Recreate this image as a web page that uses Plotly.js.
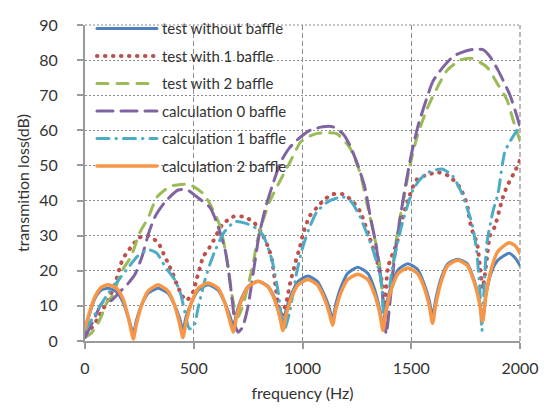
<!DOCTYPE html>
<html>
<head>
<meta charset="utf-8">
<script src="https://cdn.plot.ly/plotly-3.0.1.min.js"></script>
<style>
html,body{margin:0;padding:0;background:#fff;}
#chart{width:544px;height:409px;}
.js-line{stroke-linecap:round;}
</style>
</head>
<body>
<div id="chart"></div>
<script>
// ---- data (frequency in Hz, transmission loss in dB) ----
var seriesNames = ["test without baffle","test with 1 baffle","test with 2 baffle","calculation 0 baffle","calculation 1 baffle","calculation 2 baffle"];

var blueF = [0,20,45,75,108,145,175,200,212,222,237,262,292,336,380,410,435,450,465,490,520,566,612,642,667,682,697,722,752,796,840,870,895,910,925,950,980,1024,1068,1098,1123,1138,1153,1178,1208,1254,1300,1330,1355,1370,1385,1410,1440,1484,1528,1558,1583,1598,1613,1638,1668,1713,1758,1788,1813,1828,1843,1868,1898,1950,1980,2000];
var blueTL = [3,7.5,12,14.5,15,14,11,6.5,4,2,6,10.5,13.7,15,13.7,10.5,6.5,3,7,11,14.5,16,14.5,11,7,4,8,12.5,15.7,17,15.7,12.5,8,4,9,13.5,17,18.5,17,13.5,9.5,6,10.5,15.5,19.3,21,19.3,15,9,4,10,16,20.3,22,20.5,16.5,11.5,7,12,18,22,23.3,22,17.5,11.5,6,13,19.5,23,25,23.5,21.5];

var redF = [0,28,55,78,110,142,165,190,215,248,290,336,360,383,405,423,446,466,497,515,529,543,566,590,630,680,727,773,810,843,860,875,890,905,925,945,966,989,1003,1034,1066,1103,1140,1186,1227,1264,1300,1342,1365,1378,1393,1434,1460,1490,1526,1582,1627,1673,1724,1756,1770,1784,1802,1815,1828,1845,1862,1885,1908,1922,1940,1982,2000];
var redTL = [2.5,3.6,6,8.6,12,17,22,25,27,29.4,30,28,25,22,19,16,13,11.5,14,18,21,24,26,28.5,33,35.4,35.4,34,31,26.6,23,16,10,7.5,11,17,22,27,30.7,35.7,38,40.4,41.8,41.8,40,37,31,23,17,11,21,28,35,41,46,47.5,48,47,43.7,39,34,30.7,28,22,15,22,30,32.7,38,41,44,49,51.5];

var greenF = [0,25,51,75,101,124,170,211,253,290,331,391,440,480,543,575,621,653,676,690,705,730,750,772,790,814,851,900,943,989,1020,1060,1103,1159,1218,1264,1297,1324,1340,1356,1368,1380,1392,1405,1425,1448,1470,1494,1526,1572,1618,1664,1724,1779,1848,1899,1940,1968,2000];
var greenTL = [1,2,4,7,11,12.7,20,24,31,35,41,44,44.6,44.6,42,39,32.7,23,13,9,7,11,16,21.6,28,33.5,40,46,51,56.5,58,59,59.3,59,55,48,39,31.6,27,21,13,6,9,15,26,35,42,50,58,66,72,77,80,80.5,78,73,68.7,63,57];

var purpleF = [0,40,80,120,160,193,230,262,294,322,368,428,470,515,575,607,644,660,678,692,705,725,750,775,800,830,860,900,940,989,1034,1094,1140,1186,1218,1255,1287,1310,1333,1356,1370,1385,1402,1420,1444,1470,1500,1530,1560,1600,1646,1692,1724,1780,1830,1862,1900,1954,1986,2000];
var purpleTL = [1,6,11,11.5,14,16,19,24,31,35.4,39.6,43,43,41,38,33.5,26,20,11,4,2.5,4,10,20,30,38,44,51,55,58,60,61,61,59,55.7,50,43.7,36,29,20,12,2,11,22,33,43,53,61,67,74,78,81,82,83,83,81,77,70,64,61];

var cyanF = [0,50,100,150,200,240,290,330,370,410,437,460,480,500,520,550,575,600,640,690,740,790,820,860,888,915,940,975,998,1030,1066,1126,1186,1220,1260,1300,1324,1356,1365,1375,1390,1411,1448,1480,1508,1540,1577,1641,1690,1733,1779,1800,1815,1825,1835,1848,1876,1899,1931,1986,2000];
var cyanTL = [3,8,13,17,21,24,26,25,21,17.7,14,8,3.5,4,9.4,17,22,26,31,34,33.5,32,30,23,14,3,8,20,26,32,36.8,40,41,40,36,30,26,19,15,6,10,20,31,38,43,46,48,49,47,42,33.5,26,15,3,15,28,37,42,54,60,61];

var orangeF = [0,20,45,75,108,145,175,200,212,222,237,262,292,336,380,410,435,450,465,490,520,566,612,642,667,682,697,722,752,796,840,870,895,910,925,950,980,1024,1068,1098,1123,1138,1153,1178,1208,1254,1300,1330,1355,1370,1385,1410,1440,1484,1528,1558,1583,1598,1613,1638,1668,1713,1758,1788,1813,1828,1843,1868,1898,1950,1980,2000];
var orangeTL = [3.5,8,12.5,15.3,16,15,12,6.5,3,0.5,5,10.5,14.3,16,14.3,10.5,5,1,5.5,11,15,16.5,15,11,5.5,2.5,7,12,15.5,17,15.5,12,7,3,7.5,12.5,16,17.5,16,12.5,8,4.5,9,14,17.5,19,17.5,13.5,8,3,9,15,19.3,20.8,19.3,15.5,10,5,10.5,17,21.5,23,21.5,17,11,5.5,13,20.5,25.5,28,27,25];

var xTicks = [0,500,1000,1500,2000];
var yTicks = [0,10,20,30,40,50,60,70,80,90];

// ---- styles ----
function tr(i, x, y, color, width, dash) {
  return {x: x, y: y, name: seriesNames[i], legendgroup: 'g' + i, type: 'scatter', mode: 'lines',
    line: {color: color, width: width, dash: dash, shape: 'spline', smoothing: 0.6},
    hoverinfo: 'skip'};
}
var data = [
  tr(0, blueF, blueTL, '#4f81bd', 3, 'solid'),
  tr(1, redF, redTL, '#c0504d', 4, '0.5px,7.5px'),
  tr(2, greenF, greenTL, '#9bbb59', 3, '11px,9px'),
  tr(3, purpleF, purpleTL, '#8064a2', 3, '16px,8px'),
  tr(4, cyanF, cyanTL, '#4bacc6', 3, '12px,7px,0.5px,7px'),
  tr(5, orangeF, orangeTL, '#f79646', 3.5, 'solid')
];

var fontFam = 'Lato, "Open Sans", sans-serif';
var gridCol = '#8c8c8c';
var layout = {
  width: 544, height: 409,
  margin: {l: 85, r: 24, t: 16, b: 68},
  paper_bgcolor: '#fff', plot_bgcolor: '#fff',
  font: {family: fontFam, size: 15, color: '#333'},
  showlegend: true,
  legend: {x: 0.016, y: 1.04, xanchor: 'left', yanchor: 'top',
    bgcolor: 'rgba(0,0,0,0)', font: {family: fontFam, size: 15, color: '#333'},
    itemwidth: 60, traceorder: 'grouped', tracegroupgap: 5},
  shapes: [
    {type: 'line', xref: 'paper', yref: 'paper', x0: 0, x1: 1, y0: 1, y1: 1, layer: 'below',
      line: {color: gridCol, width: 1.2, dash: '2px,2px'}},
    {type: 'line', xref: 'paper', yref: 'paper', x0: 1, x1: 1, y0: 0, y1: 1, layer: 'below',
      line: {color: gridCol, width: 1.2, dash: '5px,3px'}}
  ],
  xaxis: {range: [0, 2000], tickvals: xTicks, ticktext: xTicks.map(String),
    showline: true, linecolor: '#9a9a9a', linewidth: 2, mirror: false,
    ticks: 'outside', ticklen: 6, tickcolor: '#9a9a9a', tickwidth: 2,
    showgrid: true, gridcolor: gridCol, gridwidth: 1.2, griddash: '5px,3px',
    zeroline: false, ticklabelstandoff: 6,
    tickfont: {family: fontFam, size: 16, color: '#333'},
    title: {text: 'frequency (Hz)', font: {family: fontFam, size: 16, color: '#333'}, standoff: 12}},
  yaxis: {range: [0, 90], tickvals: yTicks, ticktext: yTicks.map(String),
    showline: true, linecolor: '#9a9a9a', linewidth: 2,
    ticks: 'outside', ticklen: 6, tickcolor: '#9a9a9a', tickwidth: 2,
    showgrid: true, gridcolor: gridCol, gridwidth: 1.2, griddash: '2px,2px',
    zeroline: false, ticklabelstandoff: 16,
    tickfont: {family: fontFam, size: 16, color: '#333'},
    title: {text: 'transmition loss(dB)', font: {family: fontFam, size: 16, color: '#333'}, standoff: 6}}
};

Plotly.newPlot('chart', data, layout, {staticPlot: true, displayModeBar: false});
</script>
</body>
</html>
